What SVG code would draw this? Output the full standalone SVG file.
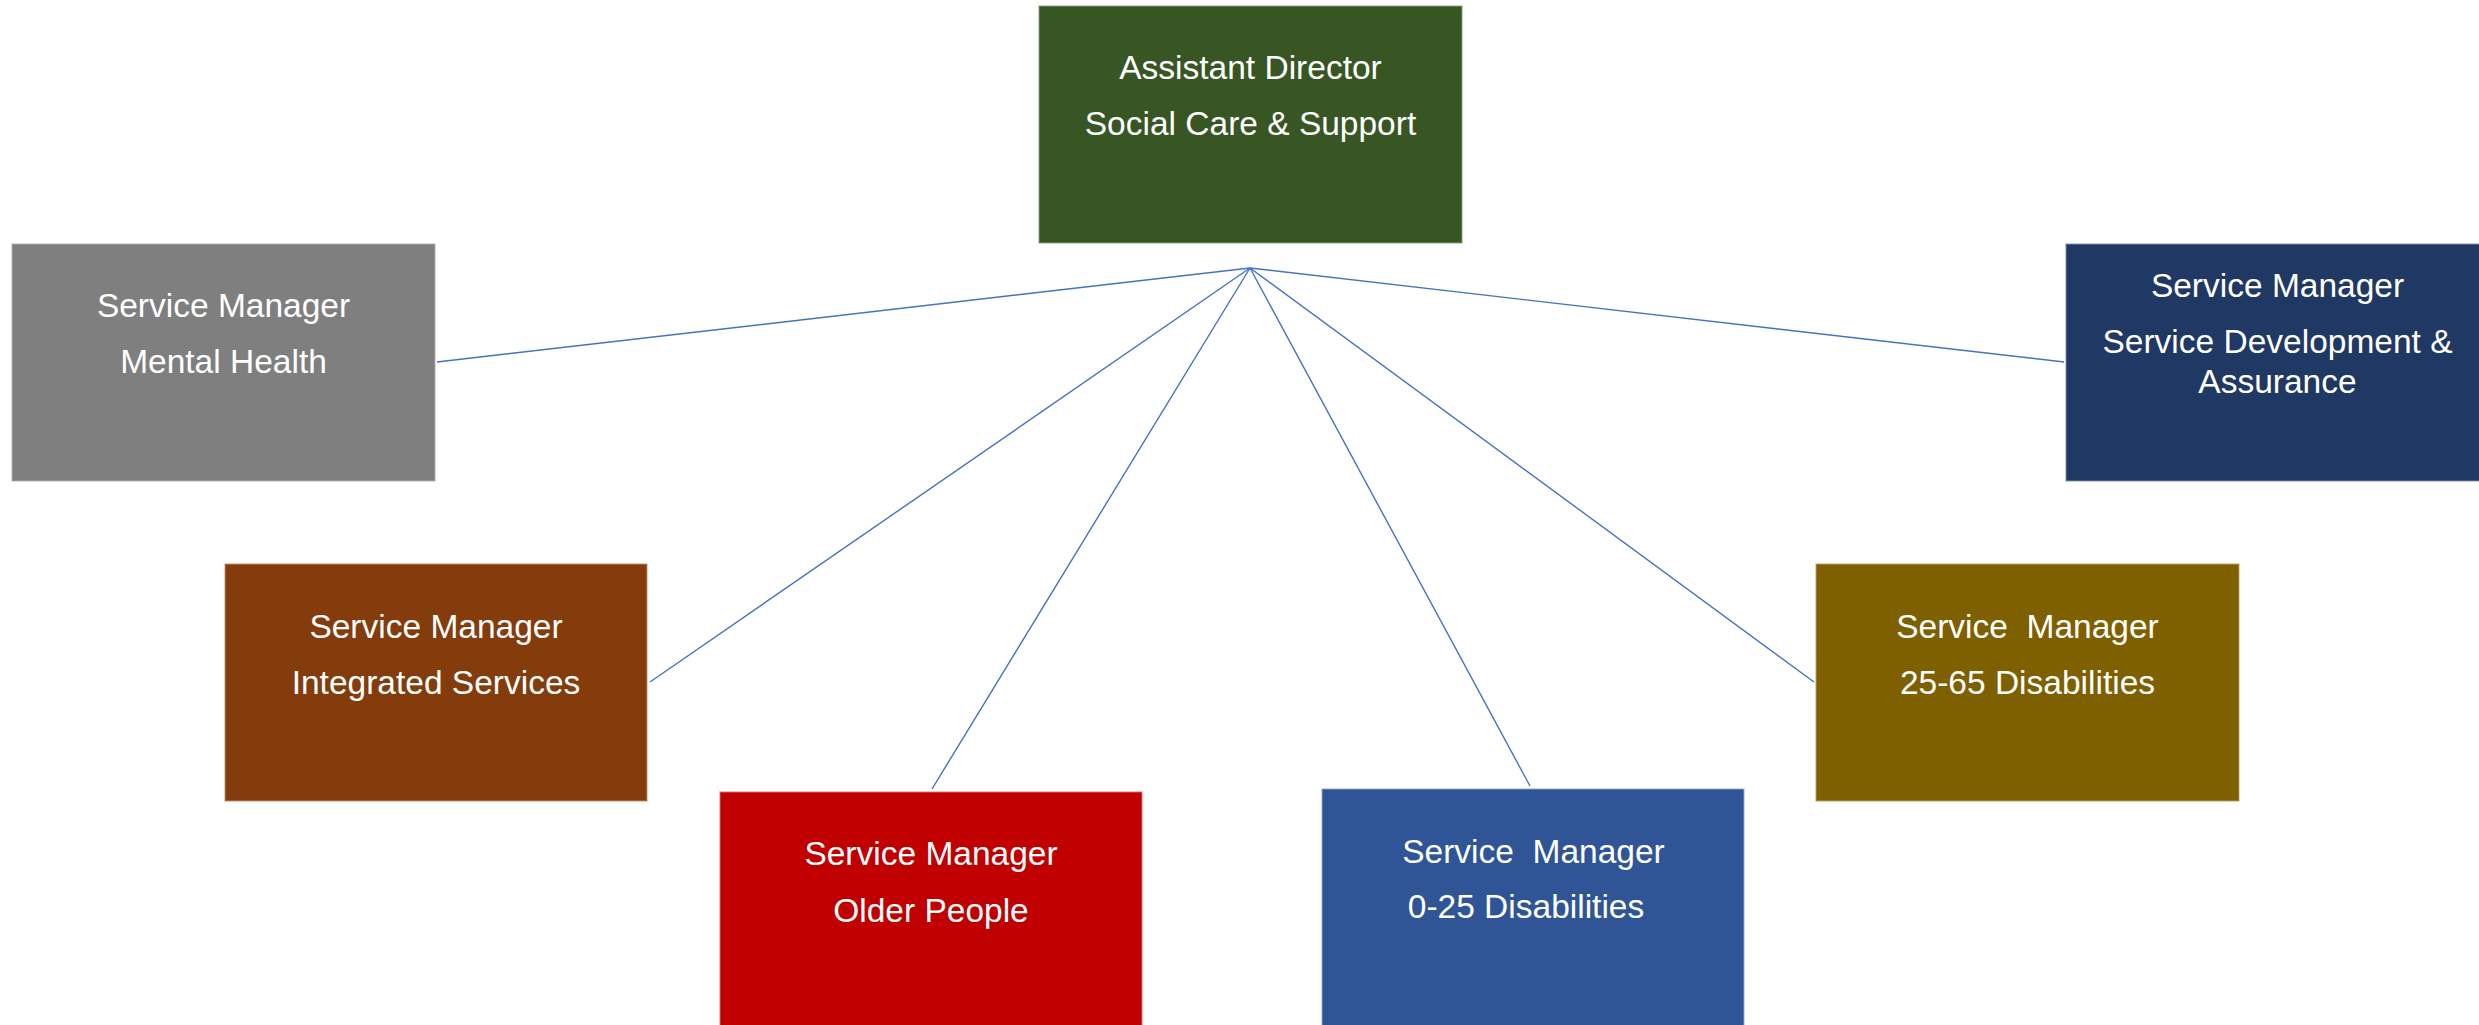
<svg xmlns="http://www.w3.org/2000/svg" width="2479" height="1025" viewBox="0 0 2479 1025">
<style>
.box{stroke-width:1.5;stroke-opacity:0.6}
.t{font-family:"Liberation Sans",Arial,sans-serif;font-size:33.5px;fill:#ffffff;text-anchor:middle}
.c{stroke:#4472c4;stroke-width:1.4;fill:none}
</style>
<rect width="2479" height="1025" fill="#ffffff"/>
<g id="connectors">
<line class="c" x1="1250" y1="268" x2="437" y2="362"/>
<line class="c" x1="1250" y1="268" x2="650" y2="682"/>
<line class="c" x1="1250" y1="268" x2="932" y2="789"/>
<line class="c" x1="1250" y1="268" x2="1530" y2="786"/>
<line class="c" x1="1250" y1="268" x2="1814" y2="682"/>
<line class="c" x1="1250" y1="268" x2="2064" y2="362"/>
</g>
<g id="assistant-director">
<rect class="box" x="1039" y="6" width="423" height="237" fill="#375623" stroke="#8a9e7e"/>
<text class="t" x="1250.5" y="79">Assistant Director</text>
<text class="t" x="1250.5" y="135">Social Care &amp; Support</text>
</g>
<g id="mental-health">
<rect class="box" x="12" y="244" width="423" height="237" fill="#7f7f7f" stroke="#b0b0b0"/>
<text class="t" x="223.5" y="317">Service Manager</text>
<text class="t" x="223.5" y="373">Mental Health</text>
</g>
<g id="service-development">
<rect class="box" x="2066" y="244" width="423" height="237" fill="#203864" stroke="#8090b0"/>
<text class="t" x="2277.5" y="297">Service Manager</text>
<text class="t" x="2277.5" y="353">Service Development &amp;</text>
<text class="t" x="2277.5" y="393">Assurance</text>
</g>
<g id="integrated-services">
<rect class="box" x="225" y="564" width="422" height="237" fill="#843c0c" stroke="#c09070"/>
<text class="t" x="436" y="638">Service Manager</text>
<text class="t" x="436" y="694">Integrated Services</text>
</g>
<g id="disabilities-25-65">
<rect class="box" x="1816" y="564" width="423" height="237" fill="#7f6000" stroke="#bfa060"/>
<text class="t" x="2027.5" y="638" xml:space="preserve">Service  Manager</text>
<text class="t" x="2027.5" y="694">25-65 Disabilities</text>
</g>
<g id="older-people">
<rect class="box" x="720" y="792" width="422" height="240" fill="#c00000" stroke="#e07070"/>
<text class="t" x="931" y="865">Service Manager</text>
<text class="t" x="931" y="922">Older People</text>
</g>
<g id="disabilities-0-25">
<rect class="box" x="1322" y="789" width="422" height="243" fill="#2f5597" stroke="#8fa8d8"/>
<text class="t" x="1533.5" y="863" xml:space="preserve">Service  Manager</text>
<text class="t" x="1526" y="918">0-25 Disabilities</text>
</g>
</svg>
